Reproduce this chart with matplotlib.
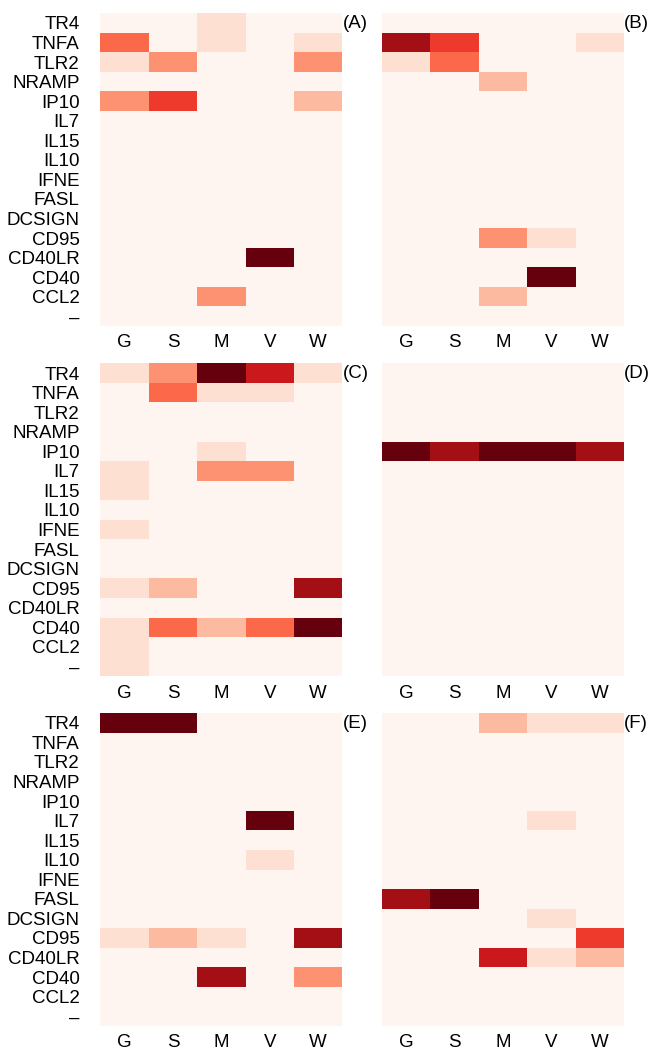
import numpy as np
import matplotlib
matplotlib.use("Agg")
import matplotlib.pyplot as plt

plt.rcParams['font.family'] = ['Liberation Sans', 'DejaVu Sans']

genes = ['TR4', 'TNFA', 'TLR2', 'NRAMP', 'IP10', 'IL7', 'IL15', 'IL10',
         'IFNE', 'FASL', 'DCSIGN', 'CD95', 'CD40LR', 'CD40', 'CCL2', '\u2013']
groups = ['G', 'S', 'M', 'V', 'W']
panel_labels = ['(A)', '(B)', '(C)', '(D)', '(E)', '(F)']

# intensity levels (0-8), rows follow genes, columns follow groups
panel_a = [[0, 0, 1, 0, 0], [4, 0, 1, 0, 1], [1, 3, 0, 0, 3], [0, 0, 0, 0, 0],
           [3, 5, 0, 0, 2], [0, 0, 0, 0, 0], [0, 0, 0, 0, 0], [0, 0, 0, 0, 0],
           [0, 0, 0, 0, 0], [0, 0, 0, 0, 0], [0, 0, 0, 0, 0], [0, 0, 0, 0, 0],
           [0, 0, 0, 8, 0], [0, 0, 0, 0, 0], [0, 0, 3, 0, 0], [0, 0, 0, 0, 0]]
panel_b = [[0, 0, 0, 0, 0], [7, 5, 0, 0, 1], [1, 4, 0, 0, 0], [0, 0, 2, 0, 0],
           [0, 0, 0, 0, 0], [0, 0, 0, 0, 0], [0, 0, 0, 0, 0], [0, 0, 0, 0, 0],
           [0, 0, 0, 0, 0], [0, 0, 0, 0, 0], [0, 0, 0, 0, 0], [0, 0, 3, 1, 0],
           [0, 0, 0, 0, 0], [0, 0, 0, 8, 0], [0, 0, 2, 0, 0], [0, 0, 0, 0, 0]]
panel_c = [[1, 3, 8, 6, 1], [0, 4, 1, 1, 0], [0, 0, 0, 0, 0], [0, 0, 0, 0, 0],
           [0, 0, 1, 0, 0], [1, 0, 3, 3, 0], [1, 0, 0, 0, 0], [0, 0, 0, 0, 0],
           [1, 0, 0, 0, 0], [0, 0, 0, 0, 0], [0, 0, 0, 0, 0], [1, 2, 0, 0, 7],
           [0, 0, 0, 0, 0], [1, 4, 2, 4, 8], [1, 0, 0, 0, 0], [1, 0, 0, 0, 0]]
panel_d = [[0, 0, 0, 0, 0], [0, 0, 0, 0, 0], [0, 0, 0, 0, 0], [0, 0, 0, 0, 0],
           [8, 7, 8, 8, 7], [0, 0, 0, 0, 0], [0, 0, 0, 0, 0], [0, 0, 0, 0, 0],
           [0, 0, 0, 0, 0], [0, 0, 0, 0, 0], [0, 0, 0, 0, 0], [0, 0, 0, 0, 0],
           [0, 0, 0, 0, 0], [0, 0, 0, 0, 0], [0, 0, 0, 0, 0], [0, 0, 0, 0, 0]]
panel_e = [[8, 8, 0, 0, 0], [0, 0, 0, 0, 0], [0, 0, 0, 0, 0], [0, 0, 0, 0, 0],
           [0, 0, 0, 0, 0], [0, 0, 0, 8, 0], [0, 0, 0, 0, 0], [0, 0, 0, 1, 0],
           [0, 0, 0, 0, 0], [0, 0, 0, 0, 0], [0, 0, 0, 0, 0], [1, 2, 1, 0, 7],
           [0, 0, 0, 0, 0], [0, 0, 7, 0, 3], [0, 0, 0, 0, 0], [0, 0, 0, 0, 0]]
panel_f = [[0, 0, 2, 1, 1], [0, 0, 0, 0, 0], [0, 0, 0, 0, 0], [0, 0, 0, 0, 0],
           [0, 0, 0, 0, 0], [0, 0, 0, 1, 0], [0, 0, 0, 0, 0], [0, 0, 0, 0, 0],
           [0, 0, 0, 0, 0], [7, 8, 0, 0, 0], [0, 0, 0, 1, 0], [0, 0, 0, 0, 5],
           [0, 0, 6, 1, 2], [0, 0, 0, 0, 0], [0, 0, 0, 0, 0], [0, 0, 0, 0, 0]]

panels = [panel_a, panel_b, panel_c, panel_d, panel_e, panel_f]

fig = plt.figure(figsize=(6.61, 10.5), dpi=100)

lefts = [0.152, 0.578]
bottoms = [0.6895, 0.356, 0.0229]
w, h = 0.366, 0.298

for i, data in enumerate(panels):
    r, c = divmod(i, 2)
    ax = fig.add_axes([lefts[c], bottoms[r], w, h])
    arr = np.array(data, dtype=float)
    ax.pcolormesh(arr, cmap='Reds', vmin=0, vmax=8)
    ax.set_xlim(0, len(groups))
    ax.set_ylim(len(genes), 0)
    ax.set_xticks(np.arange(len(groups)) + 0.5)
    ax.set_xticklabels(groups, fontsize=13.5)
    ax.set_yticks(np.arange(len(genes)) + 0.5)
    if c == 0:
        ax.set_yticklabels(genes, fontsize=13.5)
    else:
        ax.set_yticklabels([])
    ax.tick_params(length=0)
    ax.tick_params(axis='y', pad=15)
    ax.tick_params(axis='x', pad=6)
    for s in ax.spines.values():
        s.set_visible(False)
    ax.text(1.0, 0.995, panel_labels[i], transform=ax.transAxes,
            ha='left', va='top', fontsize=13.5)

fig.savefig('out.png', dpi=100)
